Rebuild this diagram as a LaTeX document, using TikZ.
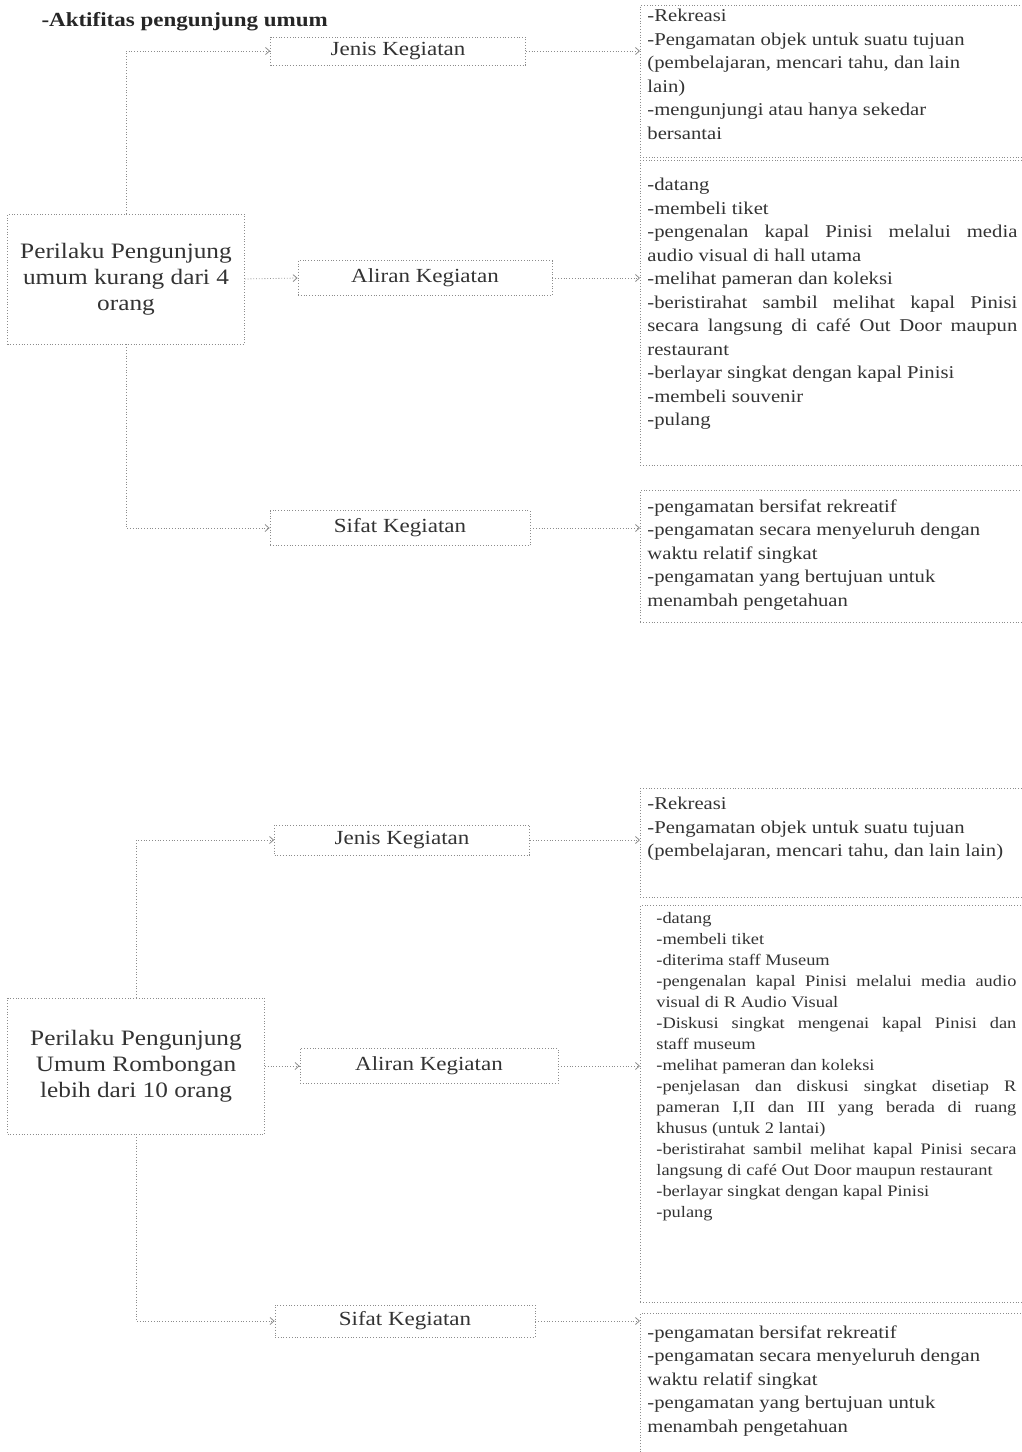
\documentclass[tikz,border=0pt]{standalone}
\usepackage{fontspec}
\setmainfont[FakeStretch=1.15]{Liberation Serif}
\usetikzlibrary{arrows.meta}
\tikzset{
  scan/.style={draw=black!45, dotted, line width=0.8pt},
  kegiatan/.style={scan, inner sep=0pt, text=black!80, font=\fontsize{20}{24}\selectfont},
  perilaku/.style={scan, inner sep=0pt, align=center, text=black!80, font=\fontsize{22}{26}\selectfont},
  uraianbox/.style={scan, anchor=north west, inner xsep=7pt, inner ysep=4pt, text=black!80, font=\fontsize{18}{23.5}\selectfont},
  uraiankecil/.style={uraianbox, inner xsep=16pt, font=\fontsize{16}{21}\selectfont},
  link/.style={scan, -{Straight Barb[length=4pt,width=7pt]}},
}
\newcommand{\uraian}[3]{\parbox[t][#1][t]{#2}{#3}}
\begin{document}
\begin{tikzpicture}[x=1pt,y=-1pt]
    \useasboundingbox (0,0) rectangle (1021,1452);
    \node   (judul) [anchor=west, text=black!85, font=\bfseries\fontsize{20}{24}\selectfont] at (38,22) {-Aktifitas pengunjung umum};

    \node   (p1) [perilaku, minimum width=237pt, minimum height=130pt] at (126,279) {Perilaku Pengunjung\\umum kurang dari 4\\orang};
    \node   (j1) [kegiatan, minimum width=255pt, minimum height=28pt] at (398,51) {Jenis Kegiatan};
    \node   (a1) [kegiatan, minimum width=254pt, minimum height=35pt] at (425,278) {Aliran Kegiatan};
    \node   (s1) [kegiatan, minimum width=260pt, minimum height=35pt] at (400,528) {Sifat Kegiatan};
    \node   (uj1) [uraianbox] at (640,5) {\uraian{144pt}{370pt}{-Rekreasi\newline
        -Pengamatan objek untuk suatu tujuan\newline
        (pembelajaran, mencari tahu, dan lain\newline
        lain)\newline
        -mengunjungi atau hanya sekedar\newline
        bersantai}};
    \node   (ua1) [uraianbox] at (640,160) {\uraian{297pt}{370pt}{\vspace*{14pt}-datang\newline
        -membeli tiket\newline
        -pengenalan kapal Pinisi melalui media\linebreak
        audio visual di hall utama\newline
        -melihat pameran dan koleksi\newline
        -beristirahat sambil melihat kapal Pinisi\linebreak
        secara langsung di café Out Door maupun\linebreak
        restaurant\newline
        -berlayar singkat dengan kapal Pinisi\newline
        -membeli souvenir\newline
        -pulang}};
    \node   (us1) [uraianbox] at (640,490) {\uraian{124pt}{370pt}{\vspace*{5pt}-pengamatan bersifat rekreatif\newline
        -pengamatan secara menyeluruh dengan\newline
        waktu relatif singkat\newline
        -pengamatan yang bertujuan untuk\newline
        menambah pengetahuan}};

    \node   (p2) [perilaku, minimum width=257pt, minimum height=136pt] at (136,1066) {Perilaku Pengunjung\\Umum Rombongan\\lebih dari 10 orang};
    \node   (j2) [kegiatan, minimum width=255pt, minimum height=30pt] at (402,840) {Jenis Kegiatan};
    \node   (a2) [kegiatan, minimum width=258pt, minimum height=35pt] at (429,1066) {Aliran Kegiatan};
    \node   (s2) [kegiatan, minimum width=260pt, minimum height=32pt] at (405,1321) {Sifat Kegiatan};
    \node   (uj2) [uraianbox] at (640,788) {\uraian{101pt}{370pt}{\vspace*{5pt}-Rekreasi\newline
        -Pengamatan objek untuk suatu tujuan\newline
        (pembelajaran, mencari tahu, dan lain lain)}};
    \node   (ua2) [uraiankecil] at (640,905) {\uraian{389pt}{360pt}{\vspace*{3pt}-datang\newline
        -membeli tiket\newline
        -diterima staff Museum\newline
        -pengenalan kapal Pinisi melalui media audio\linebreak
        visual di R Audio Visual\newline
        -Diskusi singkat mengenai kapal Pinisi dan\linebreak
        staff museum\newline
        -melihat pameran dan koleksi\newline
        -penjelasan dan diskusi singkat disetiap R\linebreak
        pameran I,II dan III yang berada di ruang\linebreak
        khusus (untuk 2 lantai)\newline
        -beristirahat sambil melihat kapal Pinisi secara\linebreak
        langsung di café Out Door maupun restaurant\newline
        -berlayar singkat dengan kapal Pinisi\newline
        -pulang}};
    \node   (us2) [uraianbox] at (640,1313) {\uraian{150pt}{370pt}{\vspace*{8pt}-pengamatan bersifat rekreatif\newline
        -pengamatan secara menyeluruh dengan\newline
        waktu relatif singkat\newline
        -pengamatan yang bertujuan untuk\newline
        menambah pengetahuan}};

    \draw[link] (p1.north) |- (j1.west);
    \draw[link] (p1.east) -- (a1.west);
    \draw[link] (p1.south) |- (s1.west);
    \draw[link] (j1.east) -- (j1.east -| uj1.west);
    \draw[link] (a1.east) -- (a1.east -| ua1.west);
    \draw[link] (s1.east) -- (s1.east -| us1.west);
    \draw[link] (p2.north) |- (j2.west);
    \draw[link] (p2.east) -- (a2.west);
    \draw[link] (p2.south) |- (s2.west);
    \draw[link] (j2.east) -- (j2.east -| uj2.west);
    \draw[link] (a2.east) -- (a2.east -| ua2.west);
    \draw[link] (s2.east) -- (s2.east -| us2.west);
\end{tikzpicture}
\end{document}
